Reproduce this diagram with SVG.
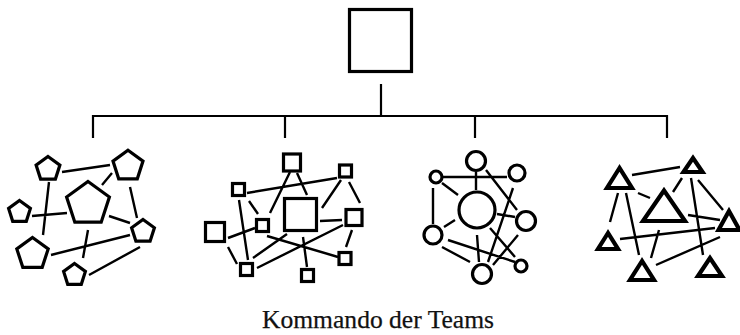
<svg xmlns="http://www.w3.org/2000/svg" width="740" height="335" viewBox="0 0 740 335">
<style>
.s{fill:#fff;stroke:#000;stroke-width:3.2}
.t{fill:#fff;stroke:#000;stroke-width:4.2;stroke-linejoin:miter}
.l{stroke:#000;stroke-width:2.4;fill:none}
.h{stroke:#000;stroke-width:2.2;fill:none}
.lab{font-family:"Liberation Serif","DejaVu Serif",serif;font-size:26px;fill:#111;stroke:#111;stroke-width:0.25}
</style>
<rect width="740" height="335" fill="#fff"/>
<g id="connectors">
<g id="tree">
<path class="h" d="M381,84V116M93,116H667M93,115V138M285,115V138M475,115V138M667,115V138"/>
</g>
<g id="pent-links">
<path class="l" d="M62,172L110,165M102,185L112,173M130,187L137,218M49,182L43,235M32,216L67,213M109,216L130,223M51,255L130,235M88,230L83,258M89,275L140,247"/>
</g>
<g id="square-links">
<path class="l" d="M247,193L337,178M290,172L270,213M297,173L307,195M249,201L258,214M239,200L248,260M341,180L322,208M349,182L360,203M320,221L342,220M228,238L255,228M228,247L237,264M267,236L338,257M253,258L287,234M257,268L343,225M303,237L307,267M352,230L346,247"/>
</g>
<g id="circle-links">
<path class="l" d="M443,177L507,177M476,172L476,190M486,170L517,210M442,183L458,195M433,188L433,224M513,188L488,262M497,214L515,217M455,220L444,227M490,228L515,257M477,235L479,262M448,240L515,262M442,247L470,262M518,235L493,265"/>
</g>
<g id="triangle-links">
<path class="l" d="M632,175L680,167M638,193L650,198M618,193L610,222M626,193L639,255M682,178L673,192M691,178L703,255M698,180L723,210M688,215L720,220M620,239L715,228M659,230L651,258M656,265L720,237"/>
</g>
</g>
<g id="command"><rect class="s" x="349.5" y="9.5" width="62" height="62"/></g>
<g id="team-pentagons">
<polygon id="p1" class="s" points="48,156.5 59.9,165.1 55.4,179.1 40.6,179.1 36.1,165.1"/>
<polygon id="p2" class="s" points="128,150.2 143,161.1 137.3,178.8 118.7,178.8 113,161.1"/>
<polygon id="p3" class="s" points="88,181.5 109.4,197 101.2,222.2 74.8,222.2 66.6,197"/>
<polygon id="p4" class="s" points="19.5,200.5 30.4,208.4 26.3,221.3 12.7,221.3 8.6,208.4"/>
<polygon id="p5" class="s" points="143,219.5 154.4,227.8 150.1,241.2 135.9,241.2 131.6,227.8"/>
<polygon id="p6" class="s" points="32.5,237.5 48.2,248.9 42.2,267.3 22.8,267.3 16.8,248.9"/>
<polygon id="p7" class="s" points="74.5,263.5 85.4,271.4 81.3,284.3 67.7,284.3 63.6,271.4"/>
</g>
<g id="team-squares">
<rect id="q1" class="s" x="283.5" y="154" width="17" height="17"/>
<rect id="q2" class="s" x="339.5" y="165" width="12" height="12"/>
<rect id="q3" class="s" x="232.5" y="183.5" width="12" height="12"/>
<rect id="q4" class="s" x="284.5" y="198.5" width="32" height="32"/>
<rect id="q5" class="s" x="346" y="209.5" width="16" height="16"/>
<rect id="q6" class="s" x="256.5" y="219.5" width="12" height="12"/>
<rect id="q7" class="s" x="205.5" y="222.5" width="19" height="19"/>
<rect id="q8" class="s" x="339" y="252.5" width="12" height="12"/>
<rect id="q9" class="s" x="240.5" y="263.5" width="12" height="12"/>
<rect id="q10" class="s" x="301.5" y="269.5" width="12" height="12"/>
</g>
<g id="team-circles">
<circle id="c1" class="s" cx="476" cy="161" r="9.5"/>
<circle id="c2" class="s" cx="436" cy="177" r="6"/>
<circle id="c3" class="s" cx="517" cy="173" r="8"/>
<circle id="c4" class="s" cx="477" cy="210" r="18"/>
<circle id="c5" class="s" cx="526" cy="221" r="9.5"/>
<circle id="c6" class="s" cx="433" cy="235" r="9"/>
<circle id="c7" class="s" cx="521" cy="266" r="6"/>
<circle id="c8" class="s" cx="482" cy="274" r="9.5"/>
</g>
<g id="team-triangles">
<polygon id="t1" class="t" points="619.5,168 607,188 632,188"/>
<polygon id="t2" class="t" points="693,158 683.5,172 702.5,172"/>
<polygon id="t3" class="t" points="664,190.5 643,221 685,221"/>
<polygon id="t4" class="t" points="729,211 718.5,230 739.5,230"/>
<polygon id="t5" class="t" points="608,233 598,249 618,249"/>
<polygon id="t6" class="t" points="642,261 630,280 654,280"/>
<polygon id="t7" class="t" points="710,258 698,276 722,276"/>
</g>
<g id="label"><text class="lab" x="378" y="328" text-anchor="middle" textLength="232" lengthAdjust="spacingAndGlyphs">Kommando der Teams</text></g>
</svg>
